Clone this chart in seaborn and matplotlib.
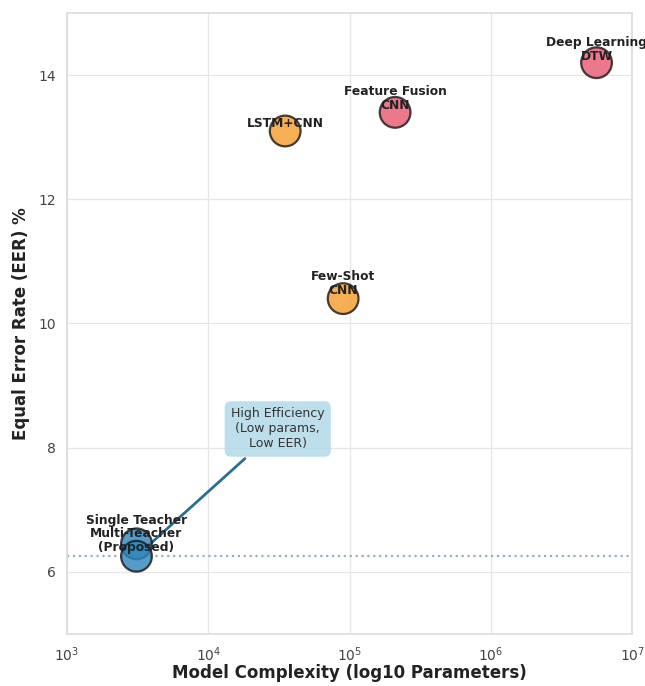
import matplotlib
matplotlib.use("Agg")
import matplotlib.pyplot as plt
import pandas as pd
import seaborn as sns

# Methods compared: parameter count vs. equal error rate
methods = ["LSTM+CNN", "Feature Fusion\nCNN", "Deep Learning\nDTW", "Few-Shot\nCNN",
           "Single Teacher", "Multi-Teacher\n(Proposed)"]
params = [3.5e4, 2.1e5, 5.6e6, 9.0e4, 3.1e3, 3.1e3]
eer = [13.1, 13.4, 14.2, 10.4, 6.45, 6.25]
family = ["Hybrid", "Deep", "Deep", "Hybrid", "Ours", "Ours"]
best_eer = 6.25

palette = {"Hybrid": "#F59E2E", "Deep": "#E85A72", "Ours": "#2F86BE"}
# vertical label offsets (points) for each method label
label_offsets = [1, 0, 0, 1, 12, 1.5]

sns.set_theme(style="whitegrid")
plt.rcParams["font.family"] = ["DejaVu Sans"]

fig, ax = plt.subplots(figsize=(6.45, 6.86), dpi=100)
fig.subplots_adjust(left=0.104, right=0.98, top=0.981, bottom=0.076)

df = pd.DataFrame({"method": methods, "params": params, "eer": eer, "family": family})

ax.axhline(best_eer, color="#8AA9B5", ls=":", lw=1.6, alpha=0.9, zorder=2)

ax.annotate("High Efficiency\n(Low params,\nLow EER)",
            xy=(params[-1], eer[-1]), xytext=(3.1e4, 8.3),
            ha="center", va="center", fontsize=9, color="#333333",
            bbox=dict(boxstyle="round,pad=0.5", facecolor="#ADD8E6",
                      edgecolor="none", alpha=0.8),
            arrowprops=dict(arrowstyle="->", color="#2C6E8F", lw=2, shrinkB=4),
            zorder=3)

sns.scatterplot(data=df, x="params", y="eer", hue="family", palette=palette,
                s=490, alpha=0.82, edgecolor="#1a1a1a", linewidth=1.6,
                legend=False, ax=ax, zorder=4)

for name, x, y, off in zip(methods, params, eer, label_offsets):
    ax.annotate(name, (x, y), xytext=(0, off), textcoords="offset points",
                ha="center", va="bottom", fontsize=8.8, fontweight="bold",
                color="#222222", zorder=5, annotation_clip=False,
                linespacing=1.1)

ax.set_xscale("log")
ax.set_xlim(1e3, 1e7)
ax.set_ylim(5, 15)
ax.grid(True, color="#E6E6E6", lw=0.9)
ax.minorticks_off()
for s in ax.spines.values():
    s.set_color("#DDDDDD")

ax.tick_params(labelsize=10, colors="#444444", pad=2)
ax.set_xlabel("Model Complexity (log10 Parameters)", fontsize=12, fontweight="bold",
              color="#222222", labelpad=0)
ax.set_ylabel("Equal Error Rate (EER) %", fontsize=12, fontweight="bold",
              color="#222222", labelpad=6)

fig.savefig("out.png", dpi=100)
